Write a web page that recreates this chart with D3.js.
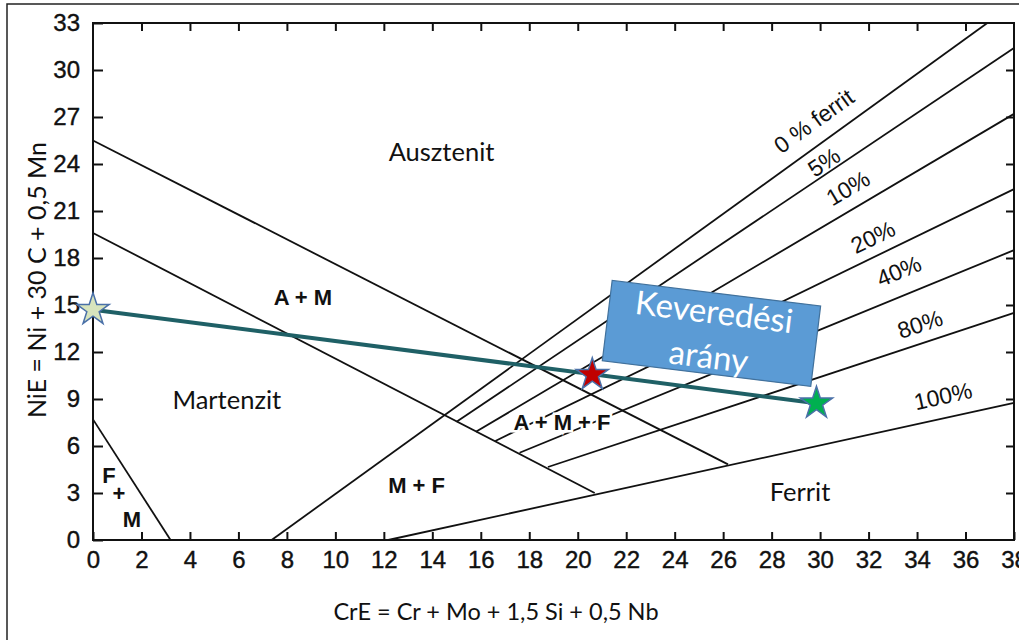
<!DOCTYPE html>
<html>
<head>
<meta charset="utf-8">
<script src="https://cdn.jsdelivr.net/npm/d3@7"></script>
<style>
  body { margin: 0; background: #fff; }
  svg { display: block; }
  .tick text { font-family: "Liberation Sans Narrow", "Liberation Sans", Arial, sans-serif; font-size: 24px; fill: #111; stroke: #111; stroke-width: 0.4px; }
</style>
</head>
<body>
<div id="chart"></div>
<script>
// ticks
var xTicks = d3.range(0, 39, 2);
var yTicks = d3.range(0, 34, 3);

// phase boundaries [x1, y1, x2, y2]
var boundaryLines = [
  [0, 7.7, 3.2, 0],          // F+M
  [0, 19.6, 20.7, 3.0],      // Martenzit / A+M
  [0, 25.5, 26.2, 4.83]      // A+M / Ausztenit
];

// ferrit % lines
var ferritLabels = ["0 % ferrit", "5%", "10%", "20%", "40%", "80%", "100%"];
var ferritStart = [[7.37, 0], [15.0, 7.55], [15.8, 6.91], [16.6, 6.32], [17.6, 5.57], [18.77, 4.66], [12.18, 0]];
var ferritEnd = [[36.9, 33], [38, 31.4], [38, 27.2], [38, 22.4], [38, 18.5], [38, 14.5], [38, 8.75]];
var ferritLabelAt = [[29.74, 26.74], [30.16, 24.12], [31.15, 22.46], [32.18, 19.34], [33.25, 17.17], [34.12, 13.78], [35.07, 9.19]];

// region names
var regionNames = ["Ausztenit", "Martenzit", "Ferrit"];
var regionAt = [[14.38, 24.19], [5.52, 8.36], [29.17, 2.49]];
var mixNames = ["A + M", "A + M + F", "M + F", "F", "+", "M"];
var mixAt = [[8.66, 15.0], [19.35, 7.02], [13.35, 3.0], [0.66, 3.64], [1.07, 2.49], [1.61, 0.83]];

// dilution line and points
var mixLine = [[0, 14.7], [29.85, 8.73]];
var starX = [0, 20.6, 29.85];
var starY = [14.7, 10.55, 8.73];
var starFill = ["#d7e4bd", "#c00000", "#00b050"];
var boxText = ["Keveredési", "arány"];
var boxAt = [25.52, 13.22];

var margin = {top: 23, right: 5, bottom: 100, left: 93},
    width = 921,
    height = 517;

var svg = d3.select("#chart")
  .append("svg")
    .attr("width", 1019)
    .attr("height", 640);

// slide border
svg.append("path")
  .attr("d", "M7,645 L7,4 L1030,4")
  .attr("fill", "none")
  .attr("stroke", "#222")
  .attr("stroke-width", 1.5);

var g = svg.append("g")
  .attr("transform", "translate(" + margin.left + "," + margin.top + ")");

var x = d3.scaleLinear().domain([0, 38]).range([0, width]);
var y = d3.scaleLinear().domain([0, 33]).range([height, 0]);

// axes, ticks pointing inside
g.append("g")
  .attr("transform", "translate(0," + height + ")")
  .call(d3.axisBottom(x).tickValues(xTicks).tickSizeInner(-8).tickSizeOuter(0).tickPadding(11));
g.append("g")
  .call(d3.axisLeft(y).tickValues(yTicks).tickSizeInner(-10).tickSizeOuter(0).tickPadding(13));
g.append("g")
  .call(d3.axisTop(x).tickValues(xTicks.slice(1, -1)).tickSizeInner(-8).tickSizeOuter(0).tickFormat(""));
g.append("g")
  .attr("transform", "translate(" + width + ",0)")
  .call(d3.axisRight(y).tickValues(yTicks.slice(1, -1)).tickSizeInner(-8).tickSizeOuter(0).tickFormat(""));
g.selectAll(".domain").remove();
g.selectAll(".tick line").attr("stroke", "#111").attr("stroke-width", 2);

g.append("rect")
  .attr("width", width).attr("height", height)
  .attr("fill", "none").attr("stroke", "#111").attr("stroke-width", 2);

// boundaries
g.selectAll(".bnd")
  .data(boundaryLines)
  .enter().append("line")
    .attr("x1", function(d) { return x(d[0]); })
    .attr("y1", function(d) { return y(d[1]); })
    .attr("x2", function(d) { return x(d[2]); })
    .attr("y2", function(d) { return y(d[3]); })
    .attr("stroke", "#111").attr("stroke-width", 1.8);

g.selectAll(".fer")
  .data(ferritStart)
  .enter().append("line")
    .attr("x1", function(d) { return x(d[0]); })
    .attr("y1", function(d) { return y(d[1]); })
    .attr("x2", function(d, i) { return x(ferritEnd[i][0]); })
    .attr("y2", function(d, i) { return y(ferritEnd[i][1]); })
    .attr("stroke", "#111").attr("stroke-width", 1.8);

// ferrit labels, rotated along their line
function lineAngle(i) {
  var dx = x(ferritEnd[i][0]) - x(ferritStart[i][0]);
  var dy = y(ferritEnd[i][1]) - y(ferritStart[i][1]);
  return Math.atan2(dy, dx) * 180 / Math.PI;
}
g.selectAll(".flab")
  .data(ferritLabels)
  .enter().append("text")
    .attr("transform", function(d, i) {
      return "translate(" + x(ferritLabelAt[i][0]) + "," + y(ferritLabelAt[i][1]) + ") rotate(" + lineAngle(i) + ")";
    })
    .attr("text-anchor", "middle")
    .attr("dy", "0.35em")
    .style("font-family", "Liberation Sans, Arial, sans-serif")
    .style("font-size", "23px")
    .attr("fill", "#111")
    .text(function(d) { return d; });

// mixed phase labels (white halo cuts the lines under them)
g.selectAll(".mlab")
  .data(mixNames)
  .enter().append("text")
    .attr("x", function(d, i) { return x(mixAt[i][0]); })
    .attr("y", function(d, i) { return y(mixAt[i][1]); })
    .attr("text-anchor", "middle")
    .style("font-family", "Liberation Sans, Arial, sans-serif")
    .style("font-size", "22px")
    .style("font-weight", "bold")
    .attr("fill", "#111")
    .attr("stroke", "#fff").attr("stroke-width", 5)
    .attr("paint-order", "stroke")
    .text(function(d) { return d; });

g.selectAll(".rlab")
  .data(regionNames)
  .enter().append("text")
    .attr("x", function(d, i) { return x(regionAt[i][0]); })
    .attr("y", function(d, i) { return y(regionAt[i][1]); })
    .attr("text-anchor", "middle")
    .style("font-family", "Lato, sans-serif")
    .style("font-size", "25.5px")
    .attr("fill", "#111")
    .text(function(d) { return d; });

// axis titles
svg.append("text")
  .attr("transform", "translate(46,280) rotate(-90)")
  .attr("text-anchor", "middle")
  .style("font-family", "Lato, sans-serif")
  .style("font-size", "25px")
  .attr("fill", "#111")
  .text("NiE = Ni + 30 C + 0,5 Mn");

svg.append("text")
  .attr("x", 496).attr("y", 620)
  .attr("text-anchor", "middle")
  .style("font-family", "Lato, sans-serif")
  .style("font-size", "23.5px")
  .attr("fill", "#111")
  .text("CrE = Cr + Mo + 1,5 Si + 0,5 Nb");

// dilution line
g.append("path")
  .datum(mixLine)
  .attr("d", d3.line().x(function(d) { return x(d[0]); }).y(function(d) { return y(d[1]); }))
  .attr("stroke", "#1f6066").attr("stroke-width", 4).attr("fill", "none");

// text box
var box = g.append("g")
  .attr("transform", "translate(" + x(boxAt[0]) + "," + y(boxAt[1]) + ") rotate(7)");
box.append("rect")
  .attr("x", -105).attr("y", -40).attr("width", 210).attr("height", 81)
  .attr("fill", "#5b9bd5").attr("stroke", "#41719c").attr("stroke-width", 1.2);
box.selectAll("text")
  .data(boxText)
  .enter().append("text")
    .attr("x", 0)
    .attr("y", function(d, i) { return -21 + i * 45; })
    .attr("dy", "0.35em")
    .attr("text-anchor", "middle")
    .style("font-family", "Lato, sans-serif")
    .style("font-size", "33px")
    .attr("fill", "#fff")
    .text(function(d) { return d; });

// stars
function starPath(R) {
  var pts = [];
  for (var k = 0; k < 10; k++) {
    var r = k % 2 === 0 ? R : R * 0.382;
    var a = -Math.PI / 2 + k * Math.PI / 5;
    pts.push([r * Math.cos(a), r * Math.sin(a)]);
  }
  return "M" + pts.join("L") + "Z";
}
g.selectAll(".star")
  .data(starX)
  .enter().append("path")
    .attr("transform", function(d, i) { return "translate(" + x(d) + "," + y(starY[i]) + ")"; })
    .attr("d", starPath(17))
    .attr("fill", function(d, i) { return starFill[i]; })
    .attr("stroke", "#4a70a8").attr("stroke-width", 1.5);
</script>
</body>
</html>
